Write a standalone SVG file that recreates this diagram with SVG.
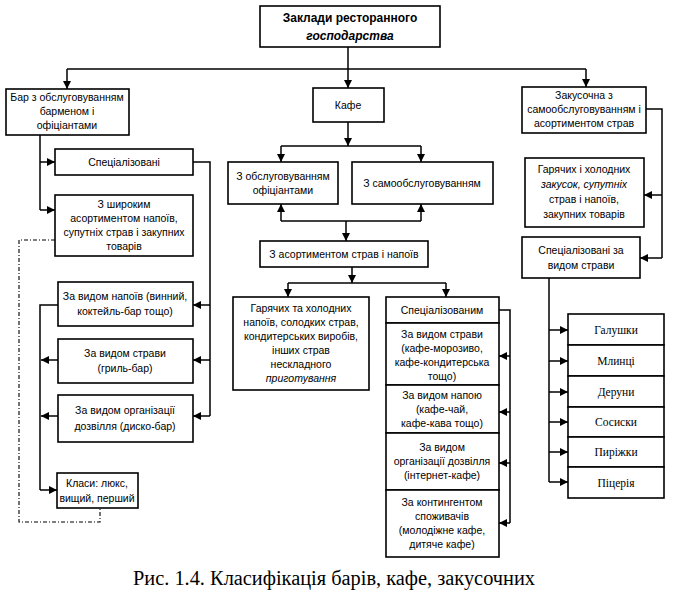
<svg xmlns="http://www.w3.org/2000/svg" width="694" height="600" viewBox="0 0 694 600">
<defs>
<marker id="ar" viewBox="0 0 10 10" refX="10" refY="5" markerWidth="9" markerHeight="8" markerUnits="userSpaceOnUse" orient="auto">
<path d="M0,0 L10,5 L0,10 z" fill="#000"/>
</marker>
<style>
.b{fill:#fff;stroke:#000;stroke-width:1.6}
.t{font-family:"Liberation Sans",Arial,sans-serif;font-size:10.5px;text-anchor:middle;fill:#000}
.s{font-family:"Liberation Serif","Times New Roman",serif;font-size:11.5px;text-anchor:middle;fill:#000}
.h{font-family:"Liberation Sans",Arial,sans-serif;font-size:12px;font-weight:bold;text-anchor:middle;fill:#000}
.c line,.c polyline{stroke:#000;stroke-width:1.5;fill:none}
.a{marker-end:url(#ar)}
.d{stroke-dasharray:4 2 1 2;stroke-width:1.1 !important}
</style>
</defs>
<rect width="694" height="600" fill="#fff"/>

<g id="connectors" class="c">
<polyline points="348,47 348,69"/>
<line x1="67" y1="69" x2="586" y2="69"/>
<line class="a" x1="67" y1="69" x2="67" y2="89"/>
<line class="a" x1="348" y1="69" x2="348" y2="88"/>
<line class="a" x1="586" y1="69" x2="586" y2="87"/>
<!-- bar -->
<line x1="40" y1="135" x2="40" y2="210"/>
<line class="a" x1="40" y1="162" x2="55" y2="162"/>
<line class="a" x1="40" y1="210" x2="55" y2="210"/>
<polyline points="193,162 210,162 210,416"/>
<line class="a" x1="210" y1="305" x2="193" y2="305"/>
<line class="a" x1="210" y1="360" x2="193" y2="360"/>
<line class="a" x1="210" y1="416" x2="193" y2="416"/>
<polyline points="58,305 40,305 40,490"/>
<line class="a" x1="58" y1="360" x2="41" y2="360"/>
<line class="a" x1="58" y1="416" x2="41" y2="416"/>
<line class="a" x1="40" y1="490" x2="57" y2="490"/>
<polyline class="d" points="55,240 19,240 19,522 100,522 100,508"/>
<!-- cafe -->
<line class="a" x1="348" y1="122" x2="348" y2="146"/>
<line x1="281" y1="146" x2="421" y2="146"/>
<line class="a" x1="281" y1="146" x2="281" y2="162"/>
<line class="a" x1="421" y1="146" x2="421" y2="162"/>
<line x1="281" y1="221" x2="421" y2="221"/>
<line class="a" x1="281" y1="221" x2="281" y2="204"/>
<line class="a" x1="421" y1="221" x2="421" y2="204"/>
<line class="a" x1="346" y1="221" x2="346" y2="241"/>
<line class="a" x1="352" y1="267" x2="352" y2="283"/>
<line x1="288" y1="283" x2="446" y2="283"/>
<line class="a" x1="288" y1="283" x2="288" y2="297"/>
<line class="a" x1="446" y1="283" x2="446" y2="297"/>
<polyline points="499,310 510,310 510,523"/>
<line class="a" x1="510" y1="356" x2="499" y2="356"/>
<line class="a" x1="510" y1="412" x2="499" y2="412"/>
<line class="a" x1="510" y1="463" x2="499" y2="463"/>
<line class="a" x1="510" y1="523" x2="499" y2="523"/>
<!-- zakusochna -->
<polyline points="646,109 662,109 662,258"/>
<line class="a" x1="662" y1="195" x2="644" y2="195"/>
<line class="a" x1="662" y1="258" x2="640" y2="258"/>
<line x1="549" y1="278" x2="549" y2="482"/>
<line class="a" x1="549" y1="330" x2="568" y2="330"/>
<line class="a" x1="549" y1="361" x2="568" y2="361"/>
<line class="a" x1="549" y1="392" x2="568" y2="392"/>
<line class="a" x1="549" y1="422" x2="568" y2="422"/>
<line class="a" x1="549" y1="452" x2="568" y2="452"/>
<line class="a" x1="549" y1="482" x2="568" y2="482"/>
</g>

<g id="root">
<rect class="b" x="260" y="6" width="180" height="41"/>
<text class="h" x="350" y="22">Заклади ресторанного</text>
<text class="h" x="350" y="40" font-style="italic">господарства</text>
</g>

<g id="bar">
<rect class="b" x="6" y="89" width="123" height="46"/>
<text class="t" x="67" y="101">Бар з обслуговуванням</text>
<text class="t" x="67" y="115">барменом і</text>
<text class="t" x="67" y="129">офіціантами</text>
</g>
<g id="bar-spec">
<rect class="b" x="55" y="149" width="138" height="26"/>
<text class="t" x="124" y="166">Спеціалізовані</text>
</g>
<g id="bar-wide">
<rect class="b" x="55" y="195" width="138" height="61"/>
<text class="t" x="124" y="208">З широким</text>
<text class="t" x="124" y="222">асортиментом напоїв,</text>
<text class="t" x="124" y="236">супутніх страв і закупних</text>
<text class="t" x="124" y="250">товарів</text>
</g>
<g id="bar-drink">
<rect class="b" x="58" y="282" width="135" height="44"/>
<text class="t" x="125" y="300">За видом напоїв (винний,</text>
<text class="t" x="125" y="315">коктейль-бар тощо)</text>
</g>
<g id="bar-dish">
<rect class="b" x="58" y="339" width="135" height="44"/>
<text class="t" x="125" y="357">За видом страви</text>
<text class="t" x="125" y="372">(гриль-бар)</text>
</g>
<g id="bar-leisure">
<rect class="b" x="58" y="395" width="135" height="47"/>
<text class="t" x="125" y="414">За видом організації</text>
<text class="t" x="125" y="430">дозвілля (диско-бар)</text>
</g>
<g id="bar-class">
<rect class="b" x="57" y="473" width="81" height="35"/>
<text class="t" x="97" y="487">Класи: люкс,</text>
<text class="t" x="97" y="502">вищий, перший</text>
</g>

<g id="cafe">
<rect class="b" x="313" y="88" width="71" height="34"/>
<text class="t" x="348" y="109">Кафе</text>
</g>
<g id="cafe-waiters">
<rect class="b" x="228" y="162" width="110" height="42"/>
<text class="t" x="283" y="180">З обслуговуванням</text>
<text class="t" x="283" y="194">офіціантами</text>
</g>
<g id="cafe-self">
<rect class="b" x="352" y="162" width="141" height="42"/>
<text class="t" x="422" y="187">З самообслуговуванням</text>
</g>
<g id="cafe-assort">
<rect class="b" x="260" y="241" width="168" height="26"/>
<text class="t" x="344" y="258">З асортиментом страв і напоїв</text>
</g>
<g id="cafe-hot">
<rect class="b" x="233" y="297" width="136" height="93"/>
<text class="t" x="301" y="312">Гарячих та холодних</text>
<text class="t" x="301" y="326">напоїв, солодких страв,</text>
<text class="t" x="301" y="340">кондитерських виробів,</text>
<text class="t" x="301" y="354">інших страв</text>
<text class="t" x="301" y="368">нескладного</text>
<text class="t" x="301" y="382" font-style="italic">приготування</text>
</g>
<g id="cafe-spec">
<rect class="b" x="386" y="297" width="113" height="26"/>
<text class="t" x="442" y="314">Спеціалізованим</text>
</g>
<g id="cafe-dish">
<rect class="b" x="386" y="323" width="113" height="62"/>
<text class="t" x="442" y="338">За видом страви</text>
<text class="t" x="442" y="352">(кафе-морозиво,</text>
<text class="t" x="442" y="366">кафе-кондитерська</text>
<text class="t" x="442" y="380">тощо)</text>
</g>
<g id="cafe-drink">
<rect class="b" x="386" y="385" width="113" height="48"/>
<text class="t" x="442" y="399">За видом напою</text>
<text class="t" x="442" y="413">(кафе-чай,</text>
<text class="t" x="442" y="427">кафе-кава тощо)</text>
</g>
<g id="cafe-leisure">
<rect class="b" x="386" y="433" width="113" height="57"/>
<text class="t" x="442" y="451">За видом</text>
<text class="t" x="442" y="465">організації дозвілля</text>
<text class="t" x="442" y="479">(інтернет-кафе)</text>
</g>
<g id="cafe-contingent">
<rect class="b" x="386" y="490" width="113" height="67"/>
<text class="t" x="442" y="506">За контингентом</text>
<text class="t" x="442" y="520">споживачів</text>
<text class="t" x="442" y="534">(молодіжне кафе,</text>
<text class="t" x="442" y="548">дитяче кафе)</text>
</g>

<g id="snack">
<rect class="b" x="522" y="87" width="124" height="46"/>
<text class="t" x="584" y="99">Закусочна з</text>
<text class="t" x="584" y="113">самообслуговуванням і</text>
<text class="t" x="584" y="127">асортиментом страв</text>
</g>
<g id="snack-hot">
<rect class="b" x="525" y="158" width="119" height="69"/>
<text class="t" x="584" y="173">Гарячих і холодних</text>
<text class="t" x="584" y="188"><tspan font-style="italic">закусок, супутніх</tspan></text>
<text class="t" x="584" y="203">страв і напоїв,</text>
<text class="t" x="584" y="218">закупних товарів</text>
</g>
<g id="snack-spec">
<rect class="b" x="522" y="237" width="118" height="41"/>
<text class="t" x="581" y="254">Спеціалізовані за</text>
<text class="t" x="581" y="269">видом страви</text>
</g>
<g id="snack-list">
<g id="galushky"><rect class="b" x="568" y="314" width="96" height="31"/><text class="s" x="616" y="334">Галушки</text></g>
<g id="mlyntsi"><rect class="b" x="568" y="345" width="96" height="31"/><text class="s" x="616" y="365">Млинці</text></g>
<g id="deruny"><rect class="b" x="568" y="376" width="96" height="31"/><text class="s" x="616" y="396">Деруни</text></g>
<g id="sosysky"><rect class="b" x="568" y="407" width="96" height="30"/><text class="s" x="616" y="426">Сосиски</text></g>
<g id="pyrizhky"><rect class="b" x="568" y="437" width="96" height="30"/><text class="s" x="616" y="456">Пиріжки</text></g>
<g id="pizza"><rect class="b" x="568" y="467" width="96" height="31"/><text class="s" x="616" y="487">Піцерія</text></g>
</g>

<text x="334" y="585" font-family="'Liberation Serif','Times New Roman',serif" font-size="20" text-anchor="middle" fill="#000" textLength="402" lengthAdjust="spacingAndGlyphs">Рис. 1.4. Класифікація барів, кафе, закусочних</text>
</svg>
